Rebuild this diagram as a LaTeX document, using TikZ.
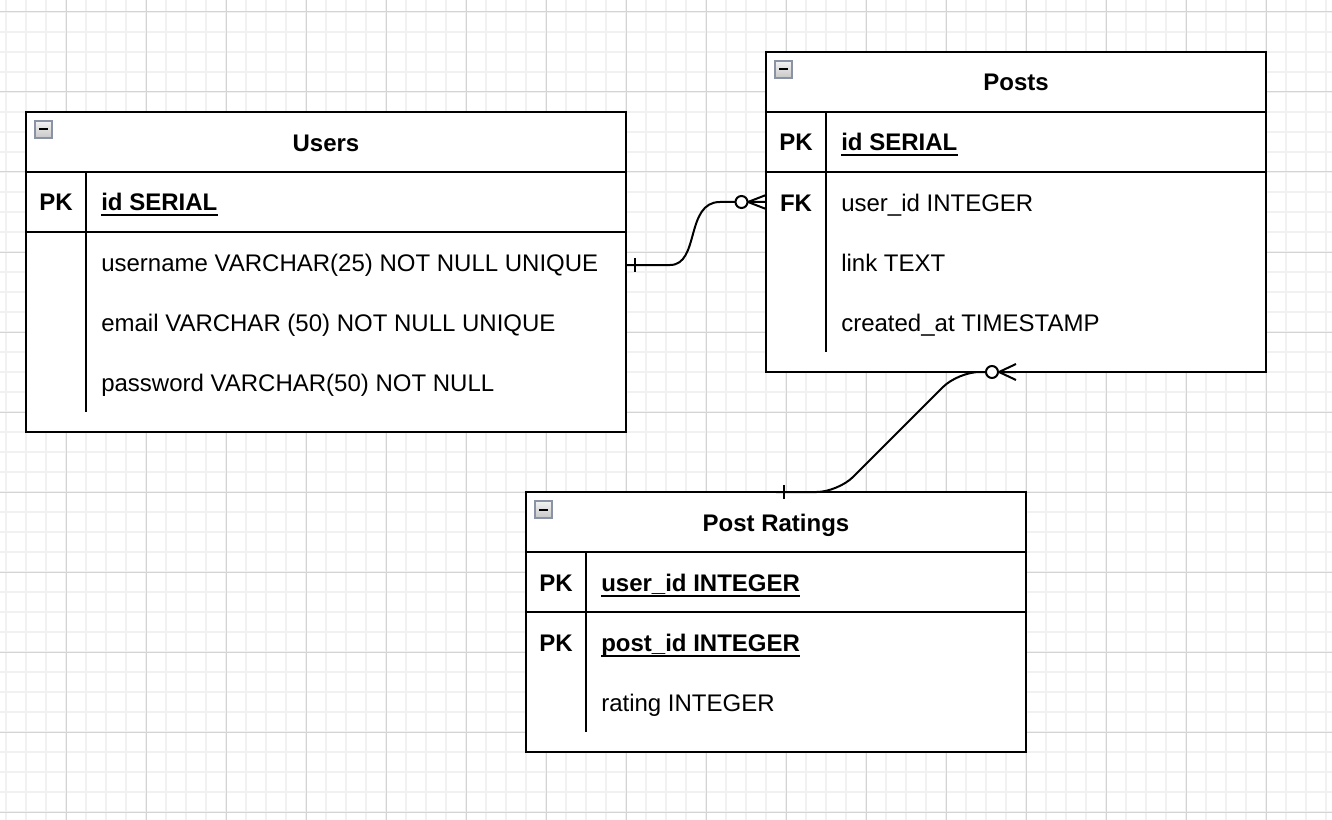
\documentclass[tikz,border=0pt]{standalone}
\usepackage{fontspec}
\setmainfont{Liberation Sans}
\usepackage{tikz}

\definecolor{gridminor}{HTML}{F1F1F1}
\definecolor{gridmajor}{HTML}{D4D4D4}
\definecolor{iconedge}{HTML}{8A93A5}

\begin{document}
\begin{tikzpicture}[x=0.75pt,y=-0.75pt,
            tablebox/.style={draw=black,line width=1.5pt,fill=white},
            rowline/.style={draw=black,line width=1.5pt},
            txt/.style={font=\fontsize{18}{22}\selectfont,inner sep=0pt},
            tabletitle/.style={txt,font=\fontsize{18}{22}\selectfont\bfseries,anchor=base},
            keytag/.style={txt,font=\fontsize{18}{22}\selectfont\bfseries,anchor=base},
            keyfield/.style={txt,font=\fontsize{18}{22}\selectfont\bfseries,anchor=base west},
            field/.style={txt,anchor=base west},
            conn/.style={draw=black,line width=1.5pt},
            collapse/.style={draw=iconedge,line width=1pt,top color=black!5,bottom color=black!22}]
            \useasboundingbox (0,0) rectangle (1332,820);
            \fill[white] (0,0) rectangle (1332,820);
            % grid
            \foreach \x in {6,26,...,1326} {
                \draw[gridminor,line width=1.2pt] (\x,0) -- (\x,820);
            }
            \foreach \y in {12,32,...,812} {
                \draw[gridminor,line width=1.2pt] (0,\y) -- (1332,\y);
            }
            \foreach \x in {66,146,...,1326} {
                \draw[gridmajor,line width=0.75pt] (\x,0) -- (\x,820);
            }
            \foreach \y in {12,92,...,812} {
                \draw[gridmajor,line width=0.75pt] (0,\y) -- (1332,\y);
            }

            % Users
            \draw[tablebox] (26,112) rectangle (626,432);
            \draw[rowline] (26,172) -- (626,172);
            \draw[rowline] (26,232) -- (626,232);
            \draw[rowline] (86,172) -- (86,412);
            \draw[collapse] (35,121) rectangle ++(17,17);
            \fill[black] (39,128.5) rectangle ++(9,2);
            \node[tabletitle] (usersTitle) at (326,151.5) {Users};
            \node[keytag] (usersPK) at (56,210.5) {PK};
            \node[keyfield] (usersId) at (101,210.5) {id SERIAL};
            \draw[line width=1.5pt] ([yshift=-3.6pt]usersId.base west) -- ([yshift=-3.6pt]usersId.base east);
            \node[field] (usersName) at (101,271.5) {username VARCHAR(25) NOT NULL UNIQUE};
            \node[field] (usersMail) at (101,331.5) {email VARCHAR (50) NOT NULL UNIQUE};
            \node[field] (usersPass) at (101,391.5) {password VARCHAR(50) NOT NULL};

            % Posts
            \draw[tablebox] (766,52) rectangle (1266,372);
            \draw[rowline] (766,112) -- (1266,112);
            \draw[rowline] (766,172) -- (1266,172);
            \draw[rowline] (826,112) -- (826,352);
            \draw[collapse] (775,61) rectangle ++(17,17);
            \fill[black] (779,68.5) rectangle ++(9,2);
            \node[tabletitle] (postsTitle) at (1016,90.5) {Posts};
            \node[keytag] (postsPK) at (796,150.5) {PK};
            \node[keyfield] (postsId) at (841,150.5) {id SERIAL};
            \draw[line width=1.5pt] ([yshift=-3.6pt]postsId.base west) -- ([yshift=-3.6pt]postsId.base east);
            \node[keytag] (postsFK) at (796,211.5) {FK};
            \node[field] (postsUser) at (841,211.5) {user\_id INTEGER};
            \node[field] (postsLink) at (841,271.5) {link TEXT};
            \node[field] (postsTime) at (841,331.5) {created\_at TIMESTAMP};

            % Post Ratings
            \draw[tablebox] (526,492) rectangle (1026,752);
            \draw[rowline] (526,552) -- (1026,552);
            \draw[rowline] (526,612) -- (1026,612);
            \draw[rowline] (586,552) -- (586,732);
            \draw[collapse] (535,501) rectangle ++(17,17);
            \fill[black] (539,508.5) rectangle ++(9,2);
            \node[tabletitle] (ratingsTitle) at (776,531.5) {Post Ratings};
            \node[keytag] (ratingsPK1) at (556,591.5) {PK};
            \node[keyfield] (ratingsUser) at (601,591.5) {user\_id INTEGER};
            \draw[line width=1.5pt] ([yshift=-3.6pt]ratingsUser.base west) -- ([yshift=-3.6pt]ratingsUser.base east);
            \node[keytag] (ratingsPK2) at (556,651.5) {PK};
            \node[keyfield] (ratingsPost) at (601,651.5) {post\_id INTEGER};
            \draw[line width=1.5pt] ([yshift=-3.6pt]ratingsPost.base west) -- ([yshift=-3.6pt]ratingsPost.base east);
            \node[field] (ratingsRate) at (601,711.5) {rating INTEGER};

            % connector ends
            \coordinate (usersEnd) at (626,265);
            \coordinate (postsFKEnd) at (766,202);
            \coordinate (ratingsEnd) at (776,492);
            \coordinate (postsEnd) at (1016,372);

            % Users 1 -- 0..n Posts
            \draw[conn] (usersEnd) -- (670,265) .. controls (700,265) and (685,202) .. (720,202) -- (postsFKEnd);
            \draw[conn] (usersEnd) ++(9,-7) -- ++(0,14);
            \draw[conn] (postsFKEnd) ++(-18,0) -- ++(18,-7);
            \draw[conn] (postsFKEnd) ++(-18,0) -- ++(18,7);
            \draw[conn,fill=white] (postsFKEnd) ++(-24.5,0) circle[radius=6];

            % Post Ratings 1 -- 0..n Posts
            \draw[conn,rounded corners=16pt] (ratingsEnd) -- (838,492) -- (958,372) -- (postsEnd);
            \draw[conn] (ratingsEnd) ++(8,-7) -- ++(0,14);
            \draw[conn] (postsEnd) ++(-17,0) -- ++(17,-8);
            \draw[conn] (postsEnd) ++(-17,0) -- ++(17,8);
            \draw[conn,fill=white] (postsEnd) ++(-24,0) circle[radius=6];
        \end{tikzpicture}
\end{document}
